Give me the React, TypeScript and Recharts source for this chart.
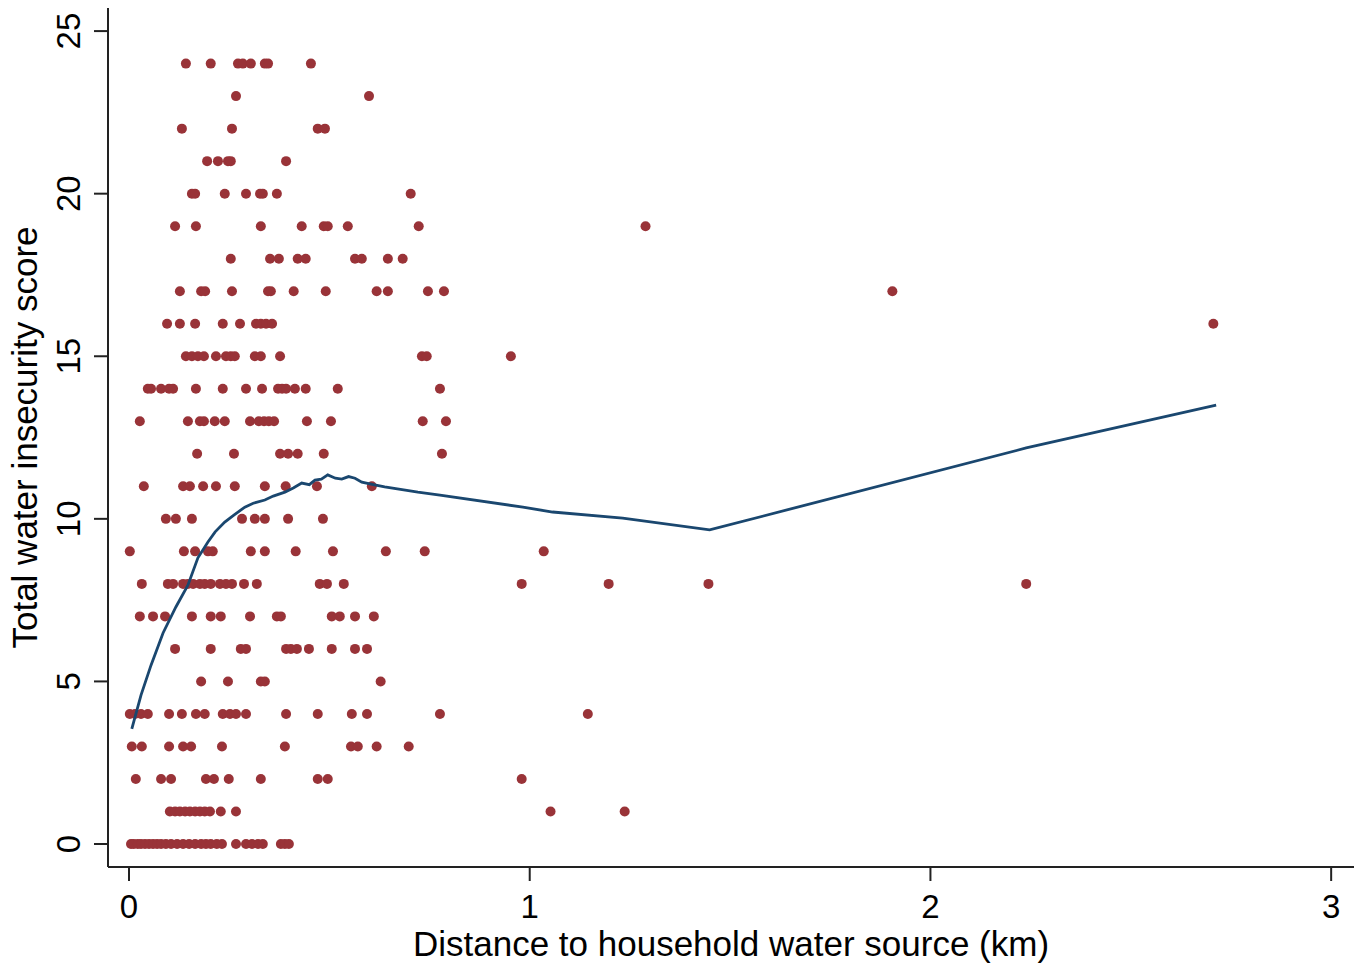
import React from "react";
import { ScatterChart, Scatter, XAxis, YAxis, Label } from "recharts";

// Distances (km) of households at each total water insecurity score
const d0 = [0.005, 0.012, 0.022, 0.03, 0.04, 0.05, 0.06, 0.07, 0.08, 0.092, 0.105, 0.12, 0.135, 0.15, 0.165, 0.18, 0.192, 0.204, 0.219, 0.232, 0.267, 0.292, 0.307, 0.322, 0.334, 0.379, 0.389, 0.399];
const d1 = [0.102, 0.115, 0.127, 0.14, 0.152, 0.165, 0.177, 0.189, 0.202, 0.229, 0.267, 1.052, 1.237];
const d2 = [0.017, 0.08, 0.105, 0.192, 0.212, 0.249, 0.329, 0.471, 0.496, 0.98];
const d3 = [0.007, 0.032, 0.1, 0.135, 0.155, 0.232, 0.389, 0.554, 0.571, 0.618, 0.698];
const d4 = [0.002, 0.015, 0.03, 0.047, 0.1, 0.132, 0.167, 0.189, 0.234, 0.252, 0.267, 0.292, 0.392, 0.471, 0.556, 0.594, 0.776, 1.145];
const d5 = [0.18, 0.247, 0.329, 0.339, 0.628];
const d6 = [0.115, 0.204, 0.279, 0.292, 0.392, 0.404, 0.419, 0.449, 0.506, 0.564, 0.594];
const d7 = [0.027, 0.06, 0.09, 0.157, 0.204, 0.229, 0.302, 0.369, 0.379, 0.506, 0.526, 0.564, 0.611];
const d8 = [0.032, 0.097, 0.11, 0.135, 0.147, 0.16, 0.177, 0.189, 0.204, 0.227, 0.242, 0.257, 0.287, 0.319, 0.476, 0.494, 0.536, 0.98, 1.197, 1.446, 2.239];
const d9 = [0.002, 0.137, 0.165, 0.197, 0.209, 0.304, 0.339, 0.416, 0.509, 0.641, 0.738, 1.035];
const d10 = [0.092, 0.117, 0.157, 0.282, 0.314, 0.339, 0.397, 0.484];
const d11 = [0.037, 0.135, 0.152, 0.185, 0.217, 0.264, 0.339, 0.391, 0.469, 0.606];
const d12 = [0.17, 0.262, 0.377, 0.397, 0.421, 0.486, 0.781];
const d13 = [0.027, 0.147, 0.177, 0.187, 0.214, 0.239, 0.302, 0.324, 0.337, 0.349, 0.362, 0.444, 0.504, 0.733, 0.791];
const d14 = [0.047, 0.055, 0.08, 0.1, 0.11, 0.167, 0.234, 0.292, 0.332, 0.372, 0.382, 0.392, 0.414, 0.441, 0.521, 0.776];
const d15 = [0.142, 0.157, 0.172, 0.187, 0.217, 0.242, 0.254, 0.264, 0.314, 0.329, 0.377, 0.731, 0.743, 0.953];
const d16 = [0.095, 0.127, 0.165, 0.234, 0.277, 0.317, 0.329, 0.342, 0.357, 2.706];
const d17 = [0.127, 0.18, 0.19, 0.257, 0.347, 0.354, 0.411, 0.491, 0.618, 0.646, 0.746, 0.786, 1.905];
const d18 = [0.254, 0.352, 0.374, 0.421, 0.441, 0.564, 0.581, 0.646, 0.683];
const d19 = [0.115, 0.167, 0.329, 0.431, 0.486, 0.496, 0.546, 0.723, 1.289];
const d20 = [0.157, 0.165, 0.239, 0.292, 0.327, 0.334, 0.369, 0.703];
const d21 = [0.195, 0.222, 0.247, 0.254, 0.392];
const d22 = [0.132, 0.257, 0.471, 0.489];
const d23 = [0.267, 0.599];
const d24 = [0.142, 0.204, 0.272, 0.284, 0.304, 0.339, 0.347, 0.454];

const distancesByScore = [d0, d1, d2, d3, d4, d5, d6, d7, d8, d9, d10, d11, d12, d13, d14, d15, d16, d17, d18, d19, d20, d21, d22, d23, d24];

// Lowess smoother
const lowessX = [0.007, 0.03, 0.055, 0.085, 0.117, 0.147, 0.172, 0.197, 0.215, 0.239, 0.26, 0.289, 0.31, 0.339, 0.36, 0.389, 0.41, 0.431, 0.45, 0.464, 0.48, 0.496, 0.515, 0.531, 0.548, 0.564, 0.581, 0.61, 0.638, 0.721, 0.776, 0.983, 1.057, 1.232, 1.449, 2.239, 2.713];
const lowessY = [3.54, 4.58, 5.5, 6.49, 7.29, 7.96, 8.8, 9.29, 9.6, 9.9, 10.1, 10.36, 10.48, 10.58, 10.7, 10.82, 10.95, 11.1, 11.05, 11.19, 11.22, 11.35, 11.25, 11.22, 11.3, 11.25, 11.13, 11.05, 10.98, 10.82, 10.73, 10.36, 10.21, 10.02, 9.66, 12.18, 13.5];

const xTicks = [0, 1, 2, 3];
const yTicks = [0, 5, 10, 15, 20, 25];

const points = distancesByScore.flatMap((arr, score) => arr.map((x) => ({ x, y: score })));
const lowess = lowessX.map((x, i) => ({ x, y: lowessY[i] }));

const FONT = "'Liberation Sans', Arial, Helvetica, sans-serif";
const FS = 33;
const TFS = 35;
const DOT = "#993338";
const LINE = "#1a476f";

const Dot = (props: any) => <circle cx={props.cx} cy={props.cy} r={5} fill={DOT} />;
const NoDot = () => <g />;

const XTick = (props: any) => (
  <text x={props.x} y={props.y} dy="0.71em" textAnchor="middle" fontSize={FS} fontFamily={FONT} fill="#000">
    {props.payload.value}
  </text>
);

const YTick = (props: any) => (
  <text
    x={props.x}
    y={props.y}
    transform={`rotate(-90 ${props.x} ${props.y})`}
    textAnchor="middle"
    fontSize={FS}
    fontFamily={FONT}
    fill="#000"
  >
    {props.payload.value}
  </text>
);

const XTitle = (props: any) => {
  const vb = props.viewBox;
  return (
    <text x={vb.x + vb.width / 2} y={vb.y + 89} textAnchor="middle" fontSize={TFS} fontFamily={FONT} fill="#000">
      Distance to household water source (km)
    </text>
  );
};

const YTitle = (props: any) => {
  const vb = props.viewBox;
  const cx = vb.x + 37;
  const cy = vb.y + vb.height / 2;
  return (
    <text x={cx} y={cy} transform={`rotate(-90 ${cx} ${cy})`} textAnchor="middle" fontSize={TFS} fontFamily={FONT} fill="#000">
      Total water insecurity score
    </text>
  );
};

export default function App() {
  return (
    <div style={{ position: "absolute", left: 0, top: 0, background: "#fff" }}>
      <ScatterChart width={1363} height={971} margin={{ top: 8, right: 9, left: 0, bottom: 0 }}>
        <XAxis
          type="number"
          dataKey="x"
          domain={[-0.0524, 3.057]}
          ticks={xTicks}
          allowDataOverflow
          tickSize={14}
          tickMargin={14}
          height={104}
          stroke="#222"
          strokeWidth={2}
          tickLine={{ stroke: "#222", strokeWidth: 2 }}
          tick={<XTick />}
        >
          <Label content={<XTitle />} />
        </XAxis>
        <YAxis
          type="number"
          dataKey="y"
          domain={[-0.707, 25.71]}
          ticks={yTicks}
          allowDataOverflow
          tickSize={14}
          tickMargin={14}
          width={108}
          stroke="#222"
          strokeWidth={2}
          tickLine={{ stroke: "#222", strokeWidth: 2 }}
          tick={<YTick />}
        >
          <Label content={<YTitle />} />
        </YAxis>
        <Scatter data={points} shape={<Dot />} isAnimationActive={false} />
        <Scatter
          data={lowess}
          shape={<NoDot />}
          line={{ stroke: LINE, strokeWidth: 2.8 }}
          lineType="joint"
          isAnimationActive={false}
        />
      </ScatterChart>
    </div>
  );
}
